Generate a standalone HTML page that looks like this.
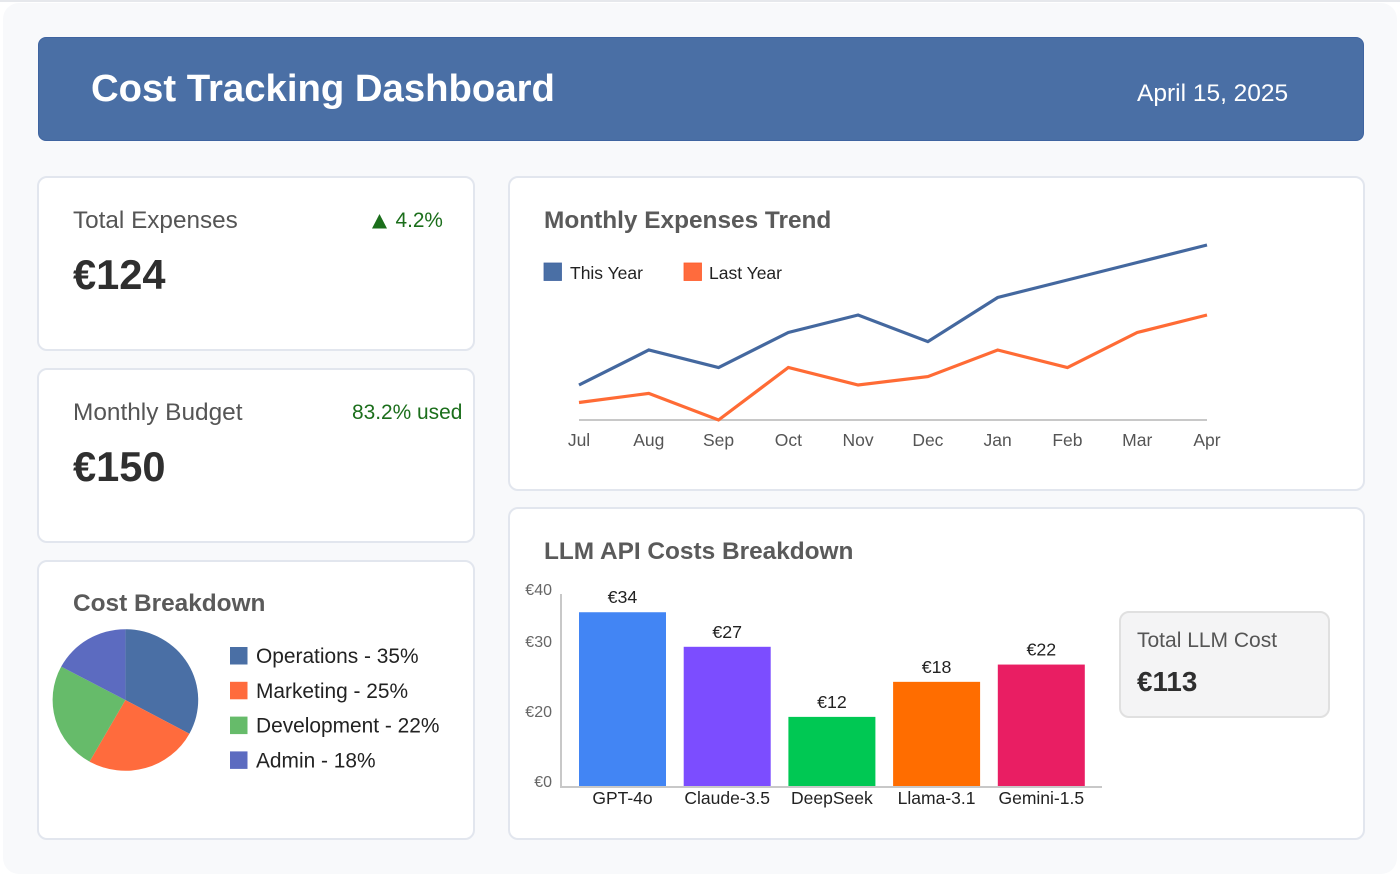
<!DOCTYPE html>
<html lang="en">
<head>
<meta charset="utf-8">
<title>Cost Tracking Dashboard</title>
<style>
html,body{margin:0;padding:0;background:#fff;}
body{width:1400px;height:875px;position:relative;overflow:hidden;font-family:"Liberation Sans",sans-serif;}
.abs{position:absolute;}
.topline{position:absolute;left:0;top:0;width:1400px;height:2px;background:#e6e8ec;}
.shell{position:absolute;left:3px;top:3px;width:1394px;height:871px;background:#f8f9fb;border-radius:16px;}
.header{position:absolute;left:38px;top:37px;width:1326px;height:104px;box-sizing:border-box;background:#4a6fa5;border:1px solid #3f64a0;border-radius:8px;}
.card{position:absolute;box-sizing:border-box;background:#fff;border:2px solid #e2e6ee;border-radius:10px;}
.t{position:absolute;white-space:nowrap;line-height:1;}
svg{position:absolute;left:0;top:0;}
</style>
</head>
<body>
<div class="topline"></div>
<div class="shell"></div>

<div class="header"></div>
<div class="t" style="left:91px;top:69.5px;font-size:38.3px;font-weight:bold;color:#fff;">Cost Tracking Dashboard</div>
<div class="t" style="left:1137px;top:82px;font-size:24.5px;color:#fff;">April 15, 2025</div>

<div class="card" style="left:37px;top:176px;width:437.5px;height:175px;"></div>
<div class="t" style="left:73px;top:208.5px;font-size:24.3px;color:#555;">Total Expenses</div>
<div class="abs" style="left:372px;top:214px;width:15px;height:14.5px;background:#1b6e1b;clip-path:polygon(50% 0,100% 100%,0 100%);"></div>
<div class="t" style="left:395.5px;top:211px;font-size:20.8px;color:#1b6e1b;">4.2%</div>
<div class="t" style="left:73px;top:253.5px;font-size:41.6px;font-weight:bold;color:#2f2f2f;">€124</div>

<div class="card" style="left:37px;top:368px;width:437.5px;height:175px;"></div>
<div class="t" style="left:73px;top:400.5px;font-size:24.4px;color:#555;">Monthly Budget</div>
<div class="t" style="left:352px;top:402.5px;font-size:20.9px;color:#1b6e1b;">83.2% used</div>
<div class="t" style="left:73px;top:445.5px;font-size:41.6px;font-weight:bold;color:#2f2f2f;">€150</div>

<div class="card" style="left:37px;top:560px;width:437.5px;height:280px;"></div>
<div class="t" style="left:73px;top:592px;font-size:24.4px;font-weight:bold;color:#5a5a5a;">Cost Breakdown</div>

<div class="card" style="left:508px;top:176px;width:856.5px;height:315px;"></div>
<div class="t" style="left:544px;top:208.5px;font-size:24.4px;font-weight:bold;color:#5a5a5a;">Monthly Expenses Trend</div>

<div class="card" style="left:508px;top:507px;width:856.5px;height:333px;"></div>
<div class="t" style="left:544px;top:540px;font-size:24.4px;font-weight:bold;color:#5a5a5a;">LLM API Costs Breakdown</div>

<div class="card" style="left:1119px;top:611px;width:210.5px;height:107px;background:#f4f4f5;border-color:#e0e0e0;"></div>
<div class="t" style="left:1137px;top:630px;font-size:21px;color:#555;">Total LLM Cost</div>
<div class="t" style="left:1137px;top:667.5px;font-size:27.8px;font-weight:bold;color:#2f2f2f;">€113</div>

<svg id="charts" width="1400" height="875" viewBox="0 0 1400 875" font-family="'Liberation Sans',sans-serif"></svg>

<script>
// Monthly trend data
const months = ['Jul','Aug','Sep','Oct','Nov','Dec','Jan','Feb','Mar','Apr'];
const thisYear = [25,50,37.5,62.5,75,56,87.5,100,112.5,125];
const lastYear = [12.5,19,0,37.5,25,31,50,37.5,62.5,75];
const trendLegend = ['This Year','Last Year'];

// LLM bars: heights as drawn and the labels printed above them
const models = ['GPT-4o','Claude-3.5','DeepSeek','Llama-3.1','Gemini-1.5'];
const barValues = [36.2,29,14.4,21.7,25.3];
const barLabels = ['€34','€27','€12','€18','€22'];
const barColors = ['#4285f4','#7c4dff','#00c853','#ff6d00','#e91e63'];
// The reference axis is unevenly spaced, so ticks hold their level on the bar scale
const tickLevels = [40,29.2,14.6,0];
const tickLabels = ['€40','€30','€20','€0'];

// Pie data: slice shares as drawn and the printed legend text
const pieShares = [32.9,25.3,24.6,17.2];
const pieLabels = ['Operations - 35%','Marketing - 25%','Development - 22%','Admin - 18%'];
const pieColors = ['#4a6fa5','#ff6b3d','#66bb6a','#5c6bc0'];

const svg = document.getElementById('charts');
const NS = 'http://www.w3.org/2000/svg';
function add(tag, attrs, text) {
  const el = document.createElementNS(NS, tag);
  for (const k in attrs) el.setAttribute(k, attrs[k]);
  if (text !== undefined) el.textContent = text;
  svg.appendChild(el);
  return el;
}

/* ---------- line chart ---------- */
const trendX = i => 579 + i * (1207 - 579) / (months.length - 1);
const trendY = v => 420 - v * 175 / 125;

const trendAxis = add('line', {x1:trendX(0), x2:trendX(months.length - 1), y1:trendY(0), y2:trendY(0), stroke:'#c8c8c8', 'stroke-width':2});



months.forEach((m, i) => {
  const tick = add('text', {x:trendX(i), y:446, 'text-anchor':'middle', 'font-size':17.5, fill:'#555'}, m);
  
  
});

function trendPoints(series) {
  return series.map((v, i) => trendX(i) + ',' + trendY(v)).join(' ');
}
const lastLine = add('polyline', {points:trendPoints(lastYear), fill:'none', stroke:'#ff6b35', 'stroke-width':3.2, 'stroke-linejoin':'miter'});


const thisLine = add('polyline', {points:trendPoints(thisYear), fill:'none', stroke:'#44689f', 'stroke-width':3.2, 'stroke-linejoin':'miter'});



const swatchA = add('rect', {x:544, y:263, width:17.5, height:17.5, fill:'#4a6fa5', stroke:'#3f64a0', 'stroke-width':0.8});


const legendA = add('text', {x:570, y:279, 'font-size':17.5, fill:'#222'}, trendLegend[0]);


const swatchB = add('rect', {x:684, y:263, width:17.5, height:17.5, fill:'#ff6b3d', stroke:'#ff5a28', 'stroke-width':0.8});


const legendB = add('text', {x:709, y:279, 'font-size':17.5, fill:'#222'}, trendLegend[1]);



/* ---------- bar chart ---------- */
const barBase = 786;
const barY = v => barBase - v * 4.8;
const barW = 87;
const barX = i => 579 + i * 104.7;

const yAxis = add('line', {x1:561, x2:561, y1:barY(40), y2:barBase + 1, stroke:'#c8c8c8', 'stroke-width':2});


const xAxis = add('line', {x1:560, x2:1102, y1:barBase + 1, y2:barBase + 1, stroke:'#c8c8c8', 'stroke-width':2});



tickLevels.forEach((v, i) => {
  const t = add('text', {x:552, y:barY(v) + 1, 'text-anchor':'end', 'font-size':16, fill:'#666'}, tickLabels[i]);
  
  
});

barValues.forEach((v, i) => {
  const bar = add('rect', {x:barX(i), y:barY(v), width:barW, height:barBase - barY(v), fill:barColors[i]});
  
  
  const val = add('text', {x:barX(i) + barW / 2, y:barY(v) - 9, 'text-anchor':'middle', 'font-size':17.8, fill:'#222'}, barLabels[i]);
  
  
  const cat = add('text', {x:barX(i) + barW / 2, y:804, 'text-anchor':'middle', 'font-size':17.5, fill:'#222'}, models[i]);
  
  
});

/* ---------- pie chart ---------- */
const pieCx = 125.4, pieCy = 700, pieRx = 72.8, pieRy = 70.8;
const pieTotal = pieShares.reduce((a, b) => a + b, 0);
let pieAngle = 0;
pieShares.forEach((s, i) => {
  const a0 = pieAngle;
  const a1 = pieAngle + s / pieTotal * 2 * Math.PI;
  pieAngle = a1;
  const x0 = pieCx + pieRx * Math.sin(a0), y0 = pieCy - pieRy * Math.cos(a0);
  const x1 = pieCx + pieRx * Math.sin(a1), y1 = pieCy - pieRy * Math.cos(a1);
  const large = a1 - a0 > Math.PI ? 1 : 0;
  const slice = add('path', {d:`M${pieCx},${pieCy}L${x0},${y0}A${pieRx},${pieRy} 0 ${large} 1 ${x1},${y1}Z`, fill:pieColors[i]});
  
  
  const rowY = 647 + i * 34.8;
  const sw = add('rect', {x:230, y:rowY, width:17.5, height:17.5, fill:pieColors[i]});
  
  
  const lab = add('text', {x:256, y:rowY + 16, 'font-size':20.9, fill:'#222'}, pieLabels[i]);
  
  
});
</script>
</body>
</html>
